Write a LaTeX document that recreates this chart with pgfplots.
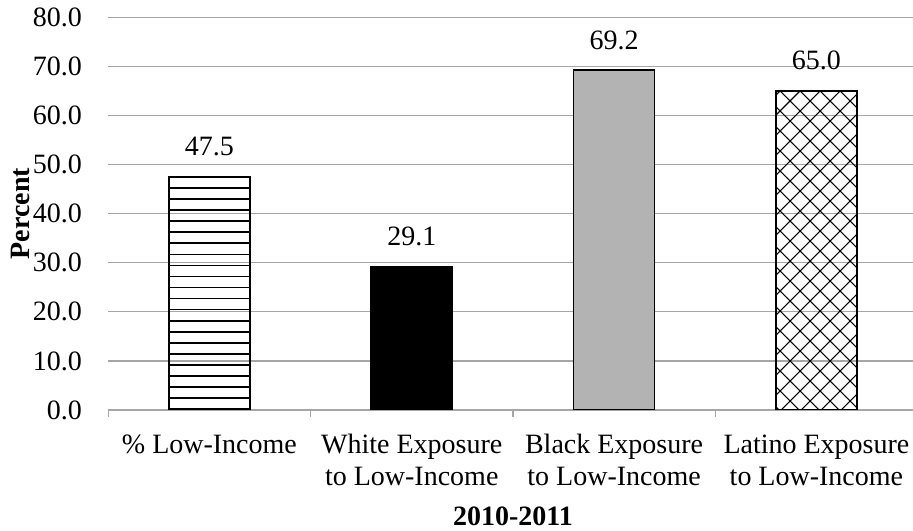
\documentclass[border=0pt]{standalone}
\usepackage{pgfplots}
\pgfplotsset{compat=1.18}
\usepackage{fontspec}
\setmainfont{Liberation Serif}
\usetikzlibrary{patterns}

\pgfdeclarepatternformonly{hstripes}{\pgfqpoint{-0.3pt}{-0.65pt}}{\pgfqpoint{8.6pt}{0.65pt}}{\pgfqpoint{8.3pt}{8.3pt}}{%
  \pgfsetlinewidth{1.2pt}%
  \pgfpathmoveto{\pgfqpoint{-0.3pt}{0pt}}\pgfpathlineto{\pgfqpoint{8.6pt}{0pt}}\pgfusepath{stroke}}

\pgfdeclarepatternformonly{mycross}{\pgfqpoint{-0.5pt}{-0.5pt}}{\pgfqpoint{15.5pt}{15.5pt}}{\pgfqpoint{15pt}{15pt}}{%
  \pgfsetlinewidth{0.8pt}%
  \pgfpathmoveto{\pgfqpoint{0pt}{0pt}}\pgfpathlineto{\pgfqpoint{15pt}{15pt}}%
  \pgfpathmoveto{\pgfqpoint{0pt}{15pt}}\pgfpathlineto{\pgfqpoint{15pt}{0pt}}%
  \pgfusepath{stroke}}

\definecolor{gridgray}{RGB}{166,166,166}
\definecolor{bargray}{RGB}{179,179,179}

\newcommand{\chartfont}{\fontsize{21}{24}\selectfont}

\begin{document}
\begin{tikzpicture}
\begin{axis}[
  scale only axis, width=607pt, height=294.5pt,
  xmin=-0.5, xmax=3.5, ymin=0, ymax=80,
  xtick={0,1,2,3},
  xticklabels={{\strut\% Low-Income},{\strut White Exposure\\\strut to Low-Income},{\strut Black Exposure\\\strut to Low-Income},{\strut Latino Exposure\\\strut to Low-Income}},
  minor xtick={-0.5,0.5,1.5,2.5,3.5},
  ytick={0,10,...,80},
  ymajorgrids, grid style={gridgray, line width=1pt},
  axis x line*=bottom, axis y line*=left,
  y axis line style={draw=none},
  x axis line style={gridgray, line width=1pt, -},
  major tick length=0pt, minor tick length=5.25pt,
  tick align=outside,
  minor tick style={gridgray, line width=1pt},
  major tick style={draw=none},
  yticklabel style={font=\chartfont, anchor=east, inner sep=0pt,
    /pgf/number format/.cd, fixed, fixed zerofill, precision=1, assume math mode=true},
  yticklabel shift=19.5pt,
  xticklabel style={font=\chartfont, align=center, anchor=north, inner sep=0pt, yshift=-15.45pt},
  ylabel={\bfseries Percent},
  ylabel style={font=\chartfont, at={(axis description cs:0,0.5)}, anchor=center, yshift=66.2pt},
  xlabel={\bfseries 2010-2011},
  xlabel style={font=\chartfont, at={(axis description cs:0.5,0)}, anchor=base, inner sep=0pt, yshift=-86.5pt},
  nodes near coords={\pgfmathprintnumber[fixed,fixed zerofill,precision=1,assume math mode=true]{\pgfplotspointmeta}},
  every node near coord/.append style={font=\chartfont, anchor=south, inner sep=0pt, yshift=15pt, text=black},
]
\addplot[ybar, bar width=60.75pt, bar shift=0pt, draw=black, line width=1.3pt, pattern=hstripes, pattern color=black] coordinates {(0,47.5)};
\addplot[ybar, bar width=60.75pt, bar shift=0pt, draw=black, line width=1.3pt, fill=black] coordinates {(1,29.1)};
\addplot[ybar, bar width=60.75pt, bar shift=0pt, draw=black, line width=1.3pt, fill=bargray] coordinates {(2,69.2)};
\addplot[ybar, bar width=60.75pt, bar shift=0pt, draw=black, line width=1.3pt, pattern=mycross, pattern color=black] coordinates {(3,65.0)};
\end{axis}
\pgfresetboundingbox
\path[use as bounding box] ([xshift=-81.2pt,yshift=-90.75pt]current axis.south west) rectangle ++(684.75pt,398.25pt);
\end{tikzpicture}
\end{document}
